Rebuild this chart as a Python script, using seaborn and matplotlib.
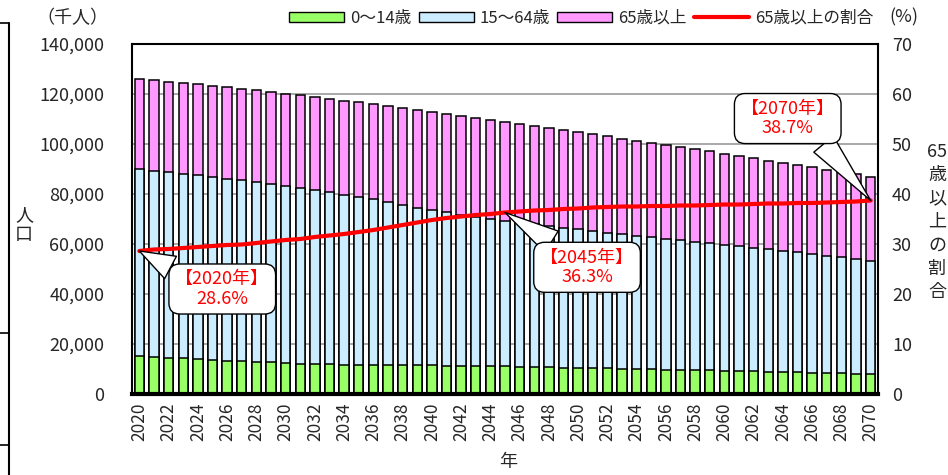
# %%
import numpy as np
import pandas as pd
import matplotlib.pyplot as plt
import seaborn as sns
from matplotlib.patches import Patch
from matplotlib.lines import Line2D

# %%
years = list(range(2020, 2071))

# 人口（千人）
pop_0_14 = [15032, 14784, 14504, 14217, 13925, 13633, 13363, 13110, 12860, 12623,
            12397, 12190, 12010, 11860, 11740, 11650, 11580, 11530, 11490, 11450,
            11419, 11360, 11290, 11210, 11120, 11027, 10920, 10800, 10680, 10550,
            10406, 10310, 10210, 10110, 10010, 9913, 9790, 9660, 9530, 9410,
            9283, 9150, 9020, 8880, 8750, 8625, 8490, 8360, 8230, 8100, 7975]
pop_15_64 = [75087, 74504, 74176, 73881, 73551, 73183, 72804, 72393, 71928, 71360,
             70761, 70180, 69531, 68812, 68028, 67172, 66250, 65268, 64197, 63135,
             62140, 61289, 60455, 59676, 58992, 58323, 57689, 57076, 56499, 55935,
             55402, 54848, 54313, 53793, 53308, 52846, 52385, 51928, 51458, 50953,
             50428, 49943, 49454, 48968, 48485, 48012, 47559, 47038, 46504, 45943, 45350]
pop_65 = [36027, 36214, 36267, 36310, 36368, 36446, 36494, 36541, 36621, 36775,
          36958, 37093, 37239, 37410, 37601, 37817, 38064, 38335, 38671, 38983,
          39278, 39395, 39492, 39529, 39502, 39451, 39374, 39287, 39163, 39030,
          38878, 38697, 38496, 38276, 38022, 37749, 37481, 37212, 36945, 36686,
          36437, 36140, 35838, 35541, 35244, 34950, 34666, 34398, 34138, 33896, 33671]
# 65歳以上の割合（%）
ratio_65 = [28.6, 28.9, 29.0, 29.2, 29.4, 29.6, 29.8, 29.9, 30.2, 30.5,
            30.8, 31.0, 31.4, 31.7, 32.0, 32.4, 32.8, 33.3, 33.8, 34.3,
            34.8, 35.2, 35.5, 35.8, 36.0, 36.3, 36.5, 36.7, 36.8, 37.0,
            37.1, 37.3, 37.4, 37.5, 37.5, 37.6, 37.6, 37.7, 37.7, 37.8,
            37.9, 37.9, 38.0, 38.1, 38.1, 38.2, 38.2, 38.3, 38.4, 38.5, 38.7]

callout_years = [2020, 2045, 2070]

# %%
df = pd.DataFrame({"year": [str(y) for y in years], "a": pop_0_14, "b": pop_15_64, "c": pop_65,
                   "ratio": ratio_65})
df["top_b"] = df["a"] + df["b"]
df["top_c"] = df["top_b"] + df["c"]
df["pos"] = np.arange(len(df))

sns.set_style("white")
plt.rcParams["font.family"] = ["Noto Sans CJK JP", "DejaVu Sans"]

green, blue, pink, red = "#99FF66", "#CCECFF", "#FF99FF", "#FF0000"

fig = plt.figure(figsize=(9.48, 4.75), dpi=100)
ax = fig.add_axes([132/948, 1-394/475, 746/948, 350/475])

bar_kw = dict(width=0.64, saturation=1, edgecolor="black", linewidth=1.1, ax=ax)
sns.barplot(data=df, x="year", y="top_c", color=pink, **bar_kw)
sns.barplot(data=df, x="year", y="top_b", color=blue, **bar_kw)
sns.barplot(data=df, x="year", y="a", color=green, **bar_kw)

ax.set_xlim(-0.5, len(df) - 0.5)
ax.set_ylim(0, 140000)
ax.set_yticks(range(0, 140001, 20000))
ax.set_yticklabels([f"{v:,}" for v in range(0, 140001, 20000)], fontsize=13)
ax.set_xticks(df["pos"][::2])
ax.set_xticklabels(df["year"][::2], rotation=90, fontsize=12.5)
ax.tick_params(axis="both", length=0, pad=6)
ax.tick_params(axis="y", pad=20)
ax.set_xlabel("")
ax.set_ylabel("")
ax.yaxis.grid(True, color="#9a9a9a", linewidth=1.2)
ax.set_axisbelow(True)
for s in ax.spines.values():
    s.set_color("black")
    s.set_linewidth(1.5)
ax.spines["bottom"].set_linewidth(3)

ax2 = ax.twinx()
sns.lineplot(data=df, x="pos", y="ratio", color=red, linewidth=3, ax=ax2)
ax2.set_ylim(0, 70)
ax2.set_yticks(range(0, 71, 10))
ax2.set_yticklabels([str(v) for v in range(0, 71, 10)], fontsize=13)
ax2.tick_params(axis="y", length=0, pad=10)
ax2.set_ylabel("")
ax2.set_xlabel("")
for s in ax2.spines.values():
    s.set_visible(False)

# callouts
box_pos = {2020: (0.121, 0.30), 2045: (0.61, 0.362), 2070: (0.879, 0.787)}
rel = {2020: (0.12, 0.85), 2045: (0.3, 0.9), 2070: (0.78, 0.12)}
for yr in callout_years:
    i = years.index(yr)
    ax2.annotate(f"【{yr}年】\n{ratio_65[i]:.1f}%", xy=(i, ratio_65[i]), xycoords="data",
                 xytext=box_pos[yr], textcoords="axes fraction",
                 ha="center", va="center", color=red, fontsize=13, linespacing=1.1,
                 bbox=dict(boxstyle="round,pad=0.35,rounding_size=0.6", fc="white", ec="black", lw=1),
                 arrowprops=dict(arrowstyle="wedge,tail_width=1.4", fc="white", ec="black", lw=1,
                                 shrinkA=0, shrinkB=0, relpos=rel[yr]))

# legend
handles = [Patch(fc=green, ec="black", lw=1), Patch(fc=blue, ec="black", lw=1),
           Patch(fc=pink, ec="black", lw=1), Line2D([], [], color=red, lw=3)]
labels = ["0～14歳", "15～64歳", "65歳以上", "65歳以上の割合"]
fig.legend(handles, labels, loc="center", bbox_to_anchor=(0.613, 0.962), ncol=4, frameon=False,
           fontsize=12, handlelength=3.3, handleheight=0.55, handletextpad=0.35, columnspacing=0.45,
           borderaxespad=0, borderpad=0)

# axis titles
fig.text(72/948, 1-18/475, "（千人）", ha="center", va="center", fontsize=13)
fig.text(904/948, 1-17/475, "(%)", ha="center", va="center", fontsize=13)
fig.text(24/948, 1-225/475, "人\n口", ha="center", va="center", fontsize=13, linespacing=1.1)
fig.text(937/948, 1-222/475, "65\n歳\n以\n上\nの\n割\n合", ha="center", va="center",
         fontsize=13, linespacing=1.38)
fig.text(508/948, 1-462/475, "年", ha="center", va="center", fontsize=13)

# stray frame line at left edge of the original image
fig.add_artist(Line2D([9/948, 9/948], [0, 1-23/475], color="black", lw=1.5))
for yy in [23, 333, 445]:
    fig.add_artist(Line2D([0, 9/948], [1-yy/475, 1-yy/475], color="black", lw=1.2))

fig.savefig("out.png", dpi=100)
